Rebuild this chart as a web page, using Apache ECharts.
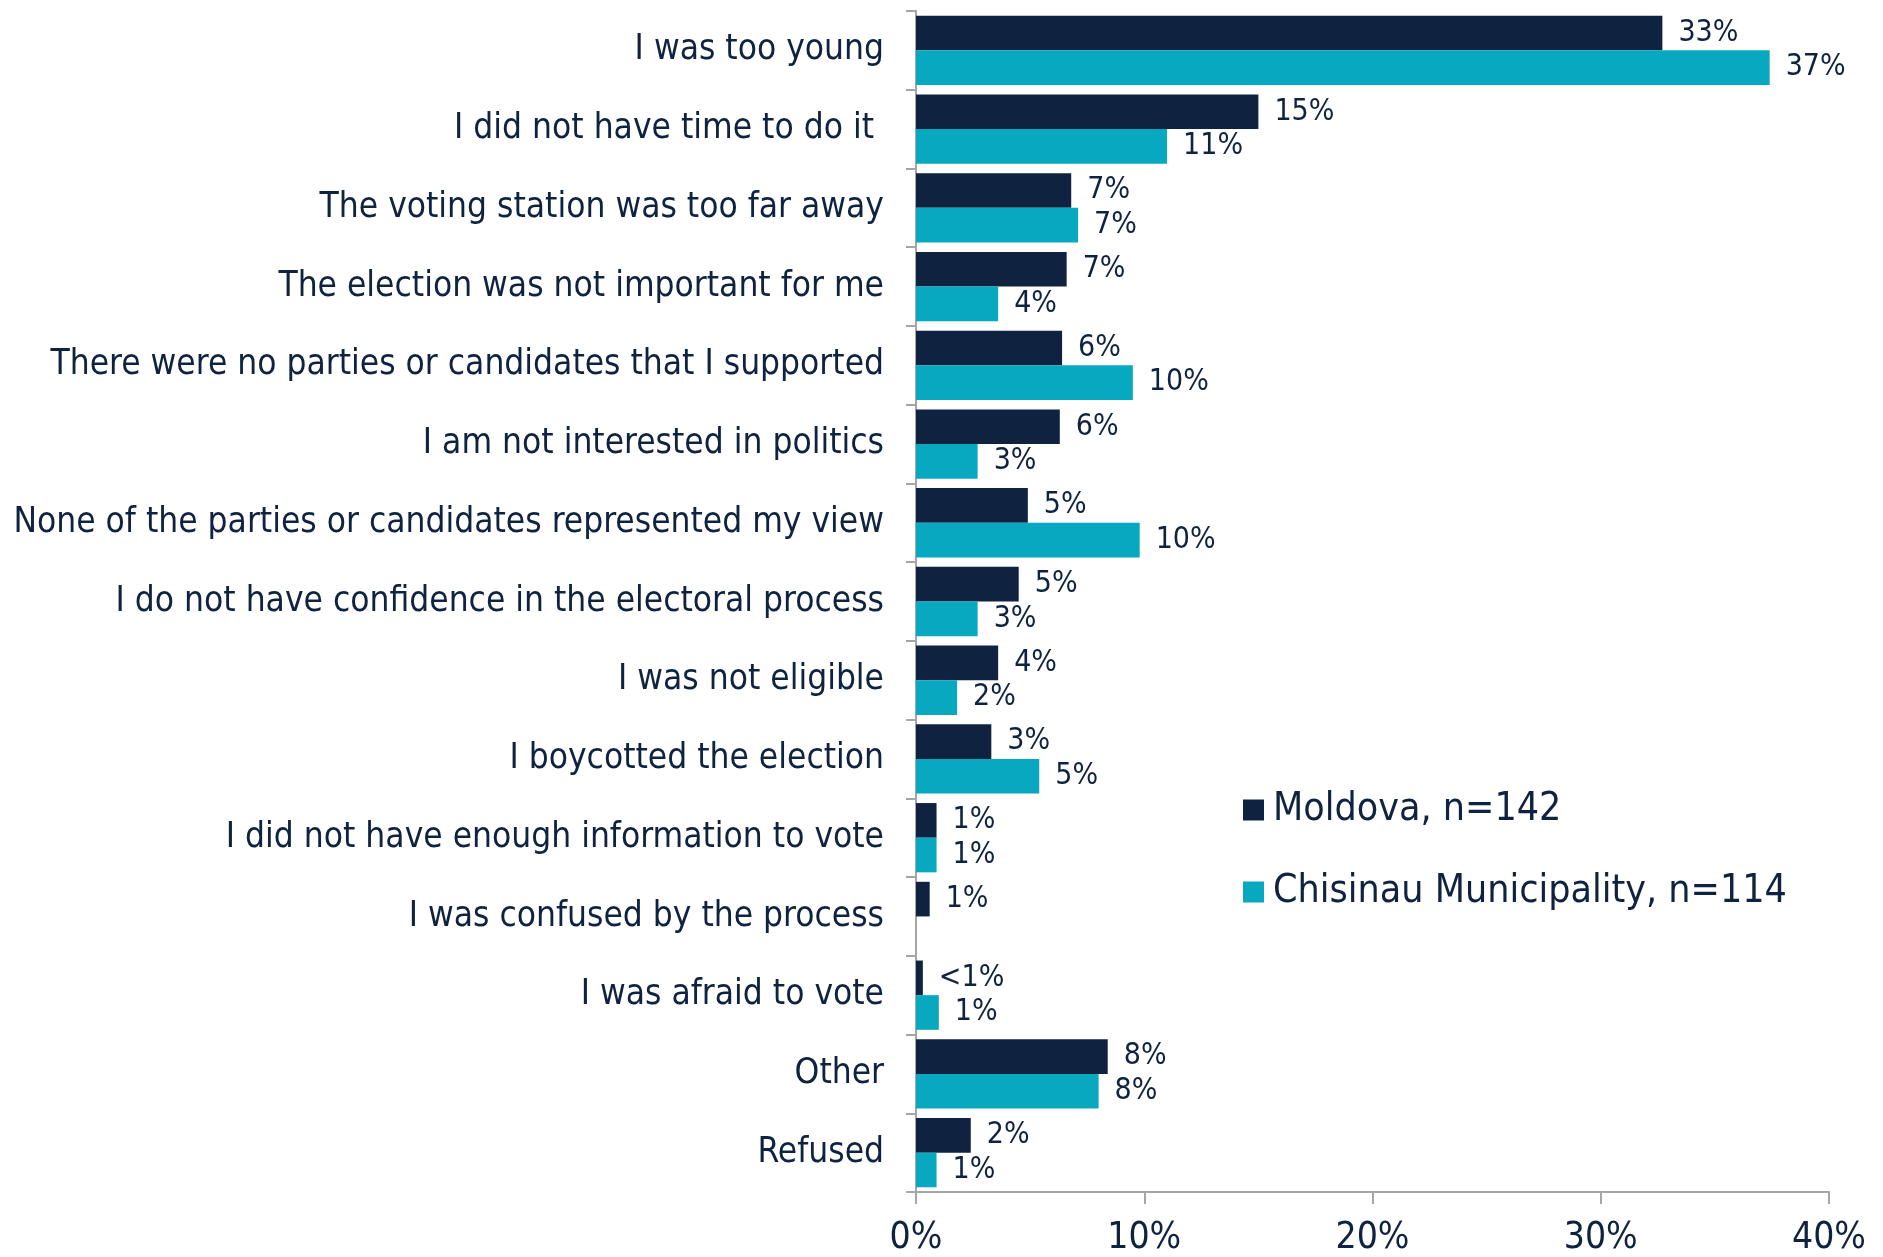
<!DOCTYPE html>
<html>
<head>
<meta charset="utf-8">
<script src="https://cdn.jsdelivr.net/npm/echarts@6/dist/echarts.min.js"></script>
<style>html,body{margin:0;padding:0;background:#fff}#c{width:1883px;height:1257px}</style>
</head>
<body>
<div id="c"></div>
<script>
const categories = [
  "I was too young",
  "I did not have time to do it ",
  "The voting station was too far away",
  "The election was not important for me",
  "There were no parties or candidates that I supported",
  "I am not interested in politics",
  "None of the parties or candidates represented my view",
  "I do not have confidence in the electoral process",
  "I was not eligible",
  "I boycotted the election",
  "I did not have enough information to vote",
  "I was confused by the process",
  "I was afraid to vote",
  "Other",
  "Refused"
];
const moldovaValues = [32.7, 15.0, 6.8, 6.6, 6.4, 6.3, 4.9, 4.5, 3.6, 3.3, 0.9, 0.6, 0.3, 8.4, 2.4];
const chisinauValues = [37.4, 11.0, 7.1, 3.6, 9.5, 2.7, 9.8, 2.7, 1.8, 5.4, 0.9, null, 1.0, 8.0, 0.9];
const moldovaLabels = ["33%", "15%", "7%", "7%", "6%", "6%", "5%", "5%", "4%", "3%", "1%", "1%", "<1%", "8%", "2%"];
const chisinauLabels = ["37%", "11%", "7%", "4%", "10%", "3%", "10%", "3%", "2%", "5%", "1%", "", "1%", "8%", "1%"];
const xTicks = [0, 10, 20, 30, 40];
const seriesNames = ["Moldova, n=142", "Chisinau Municipality, n=114"];

const FONT = "DejaVu Sans Condensed";
const NAVY = "#0f2340";
const TEAL = "#07a8c0";

const chart = echarts.init(document.getElementById('c'));
chart.setOption({
  animation: false,
  textStyle: { fontFamily: FONT, color: NAVY },
  grid: { left: 916, right: 54, top: 11, bottom: 65, containLabel: false },
  legend: {
    orient: 'vertical',
    left: 1238,
    top: 784,
    itemWidth: 21,
    itemHeight: 21,
    itemGap: 40,
    icon: 'rect',
    textStyle: { fontFamily: FONT, fontSize: 39, color: NAVY, lineHeight: 42, padding: [0,0,0,4] },
    data: seriesNames
  },
  xAxis: {
    type: 'value',
    min: xTicks[0],
    max: xTicks[xTicks.length - 1],
    interval: 10,
    axisLine: { show: true, lineStyle: { color: '#a6a6a6', width: 2 } },
    axisTick: { show: true, length: 12, lineStyle: { color: '#a6a6a6', width: 2 } },
    splitLine: { show: false },
    axisLabel: { formatter: '{value}%', fontFamily: FONT, fontSize: 37, color: NAVY, margin: 28 }
  },
  yAxis: {
    type: 'category',
    inverse: true,
    data: categories,
    axisLine: { show: true, lineStyle: { color: '#a6a6a6', width: 2 } },
    axisTick: { show: true, length: 10, lineStyle: { color: '#a6a6a6', width: 2 } },
    axisLabel: { fontFamily: FONT, fontSize: 35, color: NAVY, margin: 32, padding: [5, 0, 0, 0] }
  },
  series: [
    {
      name: seriesNames[0], type: 'bar', data: moldovaValues,
      itemStyle: { color: NAVY },
      barGap: '0%', barCategoryGap: '12%',
      label: { show: true, position: 'right', distance: 16, fontFamily: FONT, fontSize: 30, color: NAVY,
        padding: [4, 0, 0, 0], formatter: p => moldovaLabels[p.dataIndex] }
    },
    {
      name: seriesNames[1], type: 'bar', data: chisinauValues,
      itemStyle: { color: TEAL },
      barGap: '0%', barCategoryGap: '12%',
      label: { show: true, position: 'right', distance: 16, fontFamily: FONT, fontSize: 30, color: NAVY,
        padding: [4, 0, 0, 0], formatter: p => chisinauLabels[p.dataIndex] }
    }
  ]
});
</script>
</body>
</html>
